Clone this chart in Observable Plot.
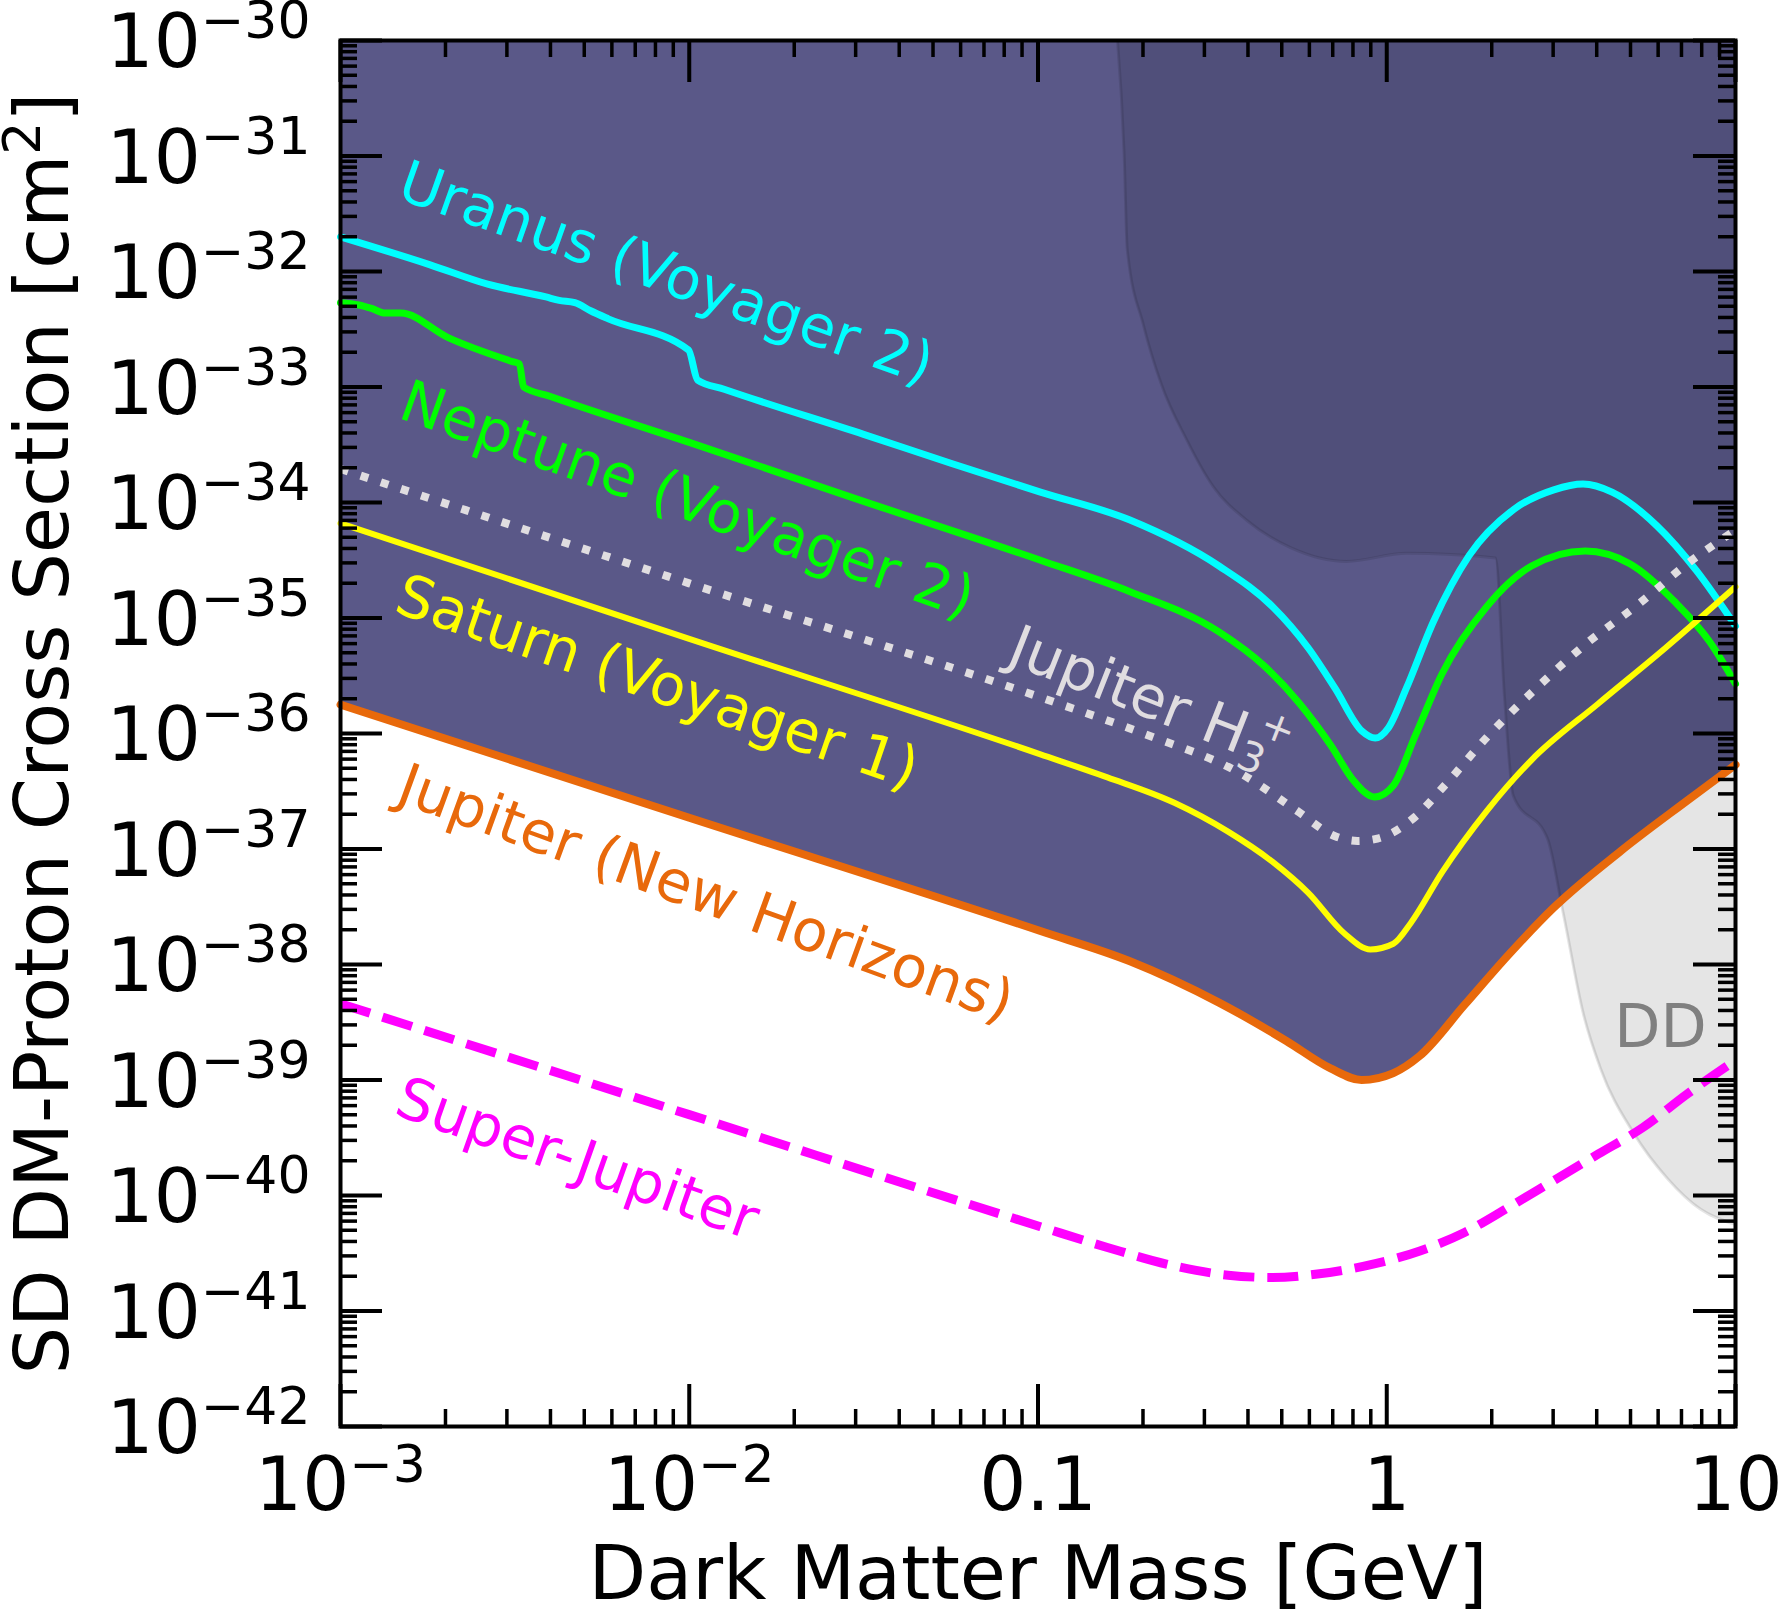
<!DOCTYPE html>
<html>
<head>
<meta charset="utf-8">
<script src="https://cdn.jsdelivr.net/npm/d3@7"></script>
<script src="https://cdn.jsdelivr.net/npm/@observablehq/plot@0.6"></script>
<style>
  html, body { margin: 0; padding: 0; background: #ffffff; }
  #chart svg { display: block; }
</style>
</head>
<body>
<div id="chart"></div>
<script>
// All series are given as log10(mass / GeV) and log10(sigma / cm^2).

// Uranus (Voyager 2)
const uranusLogM = [-3.000, -2.745, -2.578, -2.411, -2.373, -2.328, -2.283, -2.232, -2.002, -1.976, -1.900, -1.500, -1.250, -0.993, -0.738, -0.481, -0.328, -0.225, -0.148, -0.071, -0.033, 0.005, 0.056, 0.134, 0.236, 0.364, 0.479, 0.563, 0.646, 0.774, 0.888, 1.000];
const uranusLogS = [-31.70, -31.94, -32.11, -32.22, -32.25, -32.27, -32.34, -32.41, -32.68, -32.94, -33.02, -33.41, -33.66, -33.91, -34.15, -34.55, -34.90, -35.26, -35.61, -35.98, -36.04, -35.95, -35.61, -35.03, -34.46, -34.06, -33.89, -33.84, -33.91, -34.20, -34.59, -35.07];

// Neptune (Voyager 2)
const neptuneLogM = [-3.000, -2.948, -2.911, -2.872, -2.827, -2.693, -2.507, -2.487, -2.475, -2.400, -2.000, -1.500, -0.993, -0.738, -0.481, -0.353, -0.250, -0.161, -0.097, -0.035, 0.019, 0.083, 0.159, 0.287, 0.415, 0.569, 0.697, 0.826, 0.927, 1.000];
const neptuneLogS = [-32.27, -32.29, -32.32, -32.36, -32.36, -32.57, -32.78, -32.80, -33.00, -33.08, -33.48, -33.99, -34.50, -34.77, -35.12, -35.41, -35.74, -36.10, -36.40, -36.55, -36.45, -36.01, -35.48, -34.90, -34.55, -34.42, -34.53, -34.86, -35.21, -35.57];

// Jupiter H3+
const h3LogM = [-3.000, -2.000, -0.942, -0.698, -0.411, -0.257, -0.148, -0.084, -0.027, 0.082, 0.166, 0.294, 0.428, 0.569, 0.722, 0.862, 1.000];
const h3LogS = [-33.71, -34.70, -35.74, -36.00, -36.36, -36.67, -36.89, -36.93, -36.91, -36.72, -36.45, -36.01, -35.61, -35.23, -34.88, -34.53, -34.24];

// Saturn (Voyager 1)
const saturnLogM = [-3.000, -2.000, -0.993, -0.801, -0.609, -0.455, -0.328, -0.225, -0.122, -0.047, 0.019, 0.069, 0.159, 0.287, 0.415, 0.607, 0.799, 1.000];
const saturnLogS = [-34.18, -35.18, -36.18, -36.38, -36.60, -36.85, -37.11, -37.38, -37.73, -37.87, -37.82, -37.64, -37.20, -36.67, -36.23, -35.74, -35.26, -34.73];

// Jupiter (New Horizons): lower edge of the excluded region
const jupiterLogM = [-3.000, -2.000, -0.993, -0.738, -0.481, -0.289, -0.161, -0.072, 0.019, 0.095, 0.223, 0.351, 0.478, 0.670, 0.862, 1.000];
const jupiterLogS = [-35.75, -36.73, -37.71, -37.97, -38.33, -38.66, -38.90, -39.00, -38.94, -38.79, -38.35, -37.91, -37.51, -37.02, -36.58, -36.27];

// Super-Jupiter projection
const superLogM = [-3.000, -2.000, -0.993, -0.801, -0.609, -0.455, -0.328, -0.199, -0.033, 0.095, 0.223, 0.351, 0.479, 0.607, 0.735, 0.862, 1.000];
const superLogS = [-38.34, -39.30, -40.27, -40.45, -40.61, -40.69, -40.71, -40.68, -40.59, -40.48, -40.32, -40.10, -39.87, -39.64, -39.41, -39.12, -38.83];

// Direct detection (DD) bound: lower edge of its region
const ddLogM = [-0.772, -0.753, -0.744, -0.697, -0.647, -0.573, -0.498, -0.399, -0.276, -0.115, 0.057, 0.312, 0.338, 0.363, 0.461, 0.507, 0.564, 0.613, 0.708, 0.804, 0.900, 1.000];
const ddLogS = [-30.00, -30.98, -31.81, -32.47, -32.97, -33.46, -33.86, -34.16, -34.39, -34.51, -34.44, -34.48, -35.70, -36.54, -36.91, -37.57, -38.43, -38.90, -39.46, -39.85, -40.12, -40.25];

// Curve labels: text, log10 position of the start of the text, angle
const labelText  = ["Uranus (Voyager 2)", "Neptune (Voyager 2)", "Jupiter H3+", "Saturn (Voyager 1)", "Jupiter (New Horizons)", "Super-Jupiter"];
const labelLogM  = [-2.825, -2.822, -1.075, -2.834, -2.828, -2.834];
const labelLogS  = [-31.21, -33.11, -35.23, -34.79, -36.43, -39.14];
const labelAngle = [19.5, 19.5, 21.5, 19.0, 20.0, 19.5];
const labelColor = ["#00ffff", "#00ff00", "#e0dde0", "#ffff00", "#e8690b", "#ff00ff"];

// Axis ticks
const xMajor = [1e-3, 1e-2, 1e-1, 1, 10];
const xTickLabels = ["10^-3", "10^-2", "0.1", "1", "10"];
const yMajor = d3.range(-42, -29).map((e) => Number(`1e${e}`));
const yTickLabels = d3.range(-42, -29).map((e) => `10^${e}`);

const xMinor = d3.range(-3, 1).flatMap((e) => d3.range(2, 10).map((k) => k * Math.pow(10, e)));
const yMinor = d3.range(-42, -30).flatMap((e) => d3.range(2, 10).map((k) => Number(`${k}e${e}`)));

const toRows = (lm, ls) => lm.map((m, i) => ({mass: Math.pow(10, m), sigma: Math.pow(10, ls[i])}));
const uranus = toRows(uranusLogM, uranusLogS);
const neptune = toRows(neptuneLogM, neptuneLogS);
const h3 = toRows(h3LogM, h3LogS);
const saturn = toRows(saturnLogM, saturnLogS);
const jupiter = toRows(jupiterLogM, jupiterLogS);
const superJ = toRows(superLogM, superLogS);
const dd = toRows(ddLogM, ddLogS);
const labels = labelText.map((t, i) => ({
  text: t, mass: Math.pow(10, labelLogM[i]), sigma: Math.pow(10, labelLogS[i]),
  angle: labelAngle[i], color: labelColor[i]
}));

const W = 1778, H = 1610, ML = 340, MR = 43, MT = 40, MB = 184;
const FW = W - ML - MR, FH = H - MT - MB;
const TOP = 1e-30;
const MAJ = 42, MIN = 17;

const curve = "monotone-x";
const plot = Plot.plot({
  width: W, height: H,
  marginLeft: ML, marginRight: MR, marginTop: MT, marginBottom: MB,
  style: {fontFamily: "'DejaVu Sans', sans-serif", background: "#ffffff", color: "#000000"},
  x: {type: "log", domain: [1e-3, 10]},
  y: {type: "log", domain: [1e-42, 1e-30]},
  marks: [
    // excluded region above the Jupiter (New Horizons) bound
    Plot.areaY(jupiter, {x: "mass", y1: "sigma", y2: () => TOP, fill: "#5a5888", curve}),
    // direct detection region
    Plot.areaY(dd, {x: "mass", y1: "sigma", y2: () => TOP, fill: "#000000", fillOpacity: 0.1, curve}),
    Plot.line(dd, {x: "mass", y: "sigma", stroke: "#000000", strokeOpacity: 0.1, strokeWidth: 3, curve}),

    Plot.line(uranus, {x: "mass", y: "sigma", stroke: "#00ffff", strokeWidth: 7, curve}),
    Plot.line(neptune, {x: "mass", y: "sigma", stroke: "#00ff00", strokeWidth: 7, curve}),
    Plot.line(h3, {x: "mass", y: "sigma", stroke: "#e0dde0", strokeWidth: 8, strokeDasharray: "8,13.2", strokeLinecap: "butt", curve}),
    Plot.line(saturn, {x: "mass", y: "sigma", stroke: "#ffff00", strokeWidth: 6, curve}),
    Plot.line(jupiter, {x: "mass", y: "sigma", stroke: "#e8690b", strokeWidth: 8, curve}),
    Plot.line(superJ, {x: "mass", y: "sigma", stroke: "#ff00ff", strokeWidth: 9, strokeDasharray: "31,13", strokeLinecap: "butt", curve}),

    Plot.text(labels, {x: "mass", y: "sigma", text: "text", rotate: "angle", fill: "color",
      textAnchor: "start", lineAnchor: "middle", fontSize: 58}),
    Plot.text(["DD"], {x: () => Math.pow(10, 0.785), y: () => Math.pow(10, -38.544), text: (d) => d,
      fill: "#808080", fontSize: 60, textAnchor: "middle", lineAnchor: "middle"}),

    // inward ticks on all four sides
    Plot.ruleX(xMajor, {stroke: "#000", strokeWidth: 4, insetTop: FH - MAJ}),
    Plot.ruleX(xMajor, {stroke: "#000", strokeWidth: 4, insetBottom: FH - MAJ}),
    Plot.ruleX(xMinor, {stroke: "#000", strokeWidth: 3.5, insetTop: FH - MIN}),
    Plot.ruleX(xMinor, {stroke: "#000", strokeWidth: 3.5, insetBottom: FH - MIN}),
    Plot.ruleY(yMajor, {stroke: "#000", strokeWidth: 4, insetRight: FW - MAJ}),
    Plot.ruleY(yMajor, {stroke: "#000", strokeWidth: 4, insetLeft: FW - MAJ}),
    Plot.ruleY(yMinor, {stroke: "#000", strokeWidth: 3.5, insetRight: FW - MIN}),
    Plot.ruleY(yMinor, {stroke: "#000", strokeWidth: 3.5, insetLeft: FW - MIN}),
    Plot.frame({stroke: "#000", strokeWidth: 4}),

    Plot.axisX({ticks: xMajor, tickSize: 0, tickPadding: 31, fontSize: 74, label: null,
      tickFormat: (d) => xTickLabels[xMajor.indexOf(d)]}),
    Plot.axisY({ticks: yMajor, tickSize: 0, tickPadding: 30, fontSize: 74, label: null, dy: 3,
      tickFormat: (d) => yTickLabels[yMajor.indexOf(d)]}),

    Plot.text(["Dark Matter Mass [GeV]"], {frameAnchor: "bottom", dy: 148, text: (d) => d, fontSize: 75,
      fill: "#000", textAnchor: "middle", lineAnchor: "middle"}),
    Plot.text(["SD DM-Proton Cross Section [cm^2]"], {frameAnchor: "left", dx: -297, rotate: -90, text: (d) => d,
      fontSize: 75, fill: "#000", textAnchor: "middle", lineAnchor: "middle"})
  ]
});

document.getElementById("chart").appendChild(plot);

// Typeset powers of ten and the H3+ formula with raised / lowered tspans
const svg = d3.select(plot);
function typesetPower(el, supSize, rise) {
  const s = el.textContent;
  if (!s.includes("^")) return;
  const [base, exp] = s.split("^");
  const t = d3.select(el);
  t.text(null);
  t.append("tspan").text(base);
  t.append("tspan").attr("font-size", supSize).attr("dy", -rise).text(exp.replace("-", "\u2212"));
}
svg.selectAll('g[aria-label="x-axis tick label"] text').each(function () { typesetPower(this, 52, 28); });
svg.selectAll('g[aria-label="y-axis tick label"] text').each(function () { typesetPower(this, 52, 29); });

svg.selectAll("text").each(function () {
  const s = this.textContent;
  const t = d3.select(this);
  if (s === "SD DM-Proton Cross Section [cm^2]") {
    t.text(null);
    t.append("tspan").text("SD DM-Proton Cross Section [cm");
    t.append("tspan").attr("font-size", 52).attr("dy", -28).text("2");
    t.append("tspan").attr("dy", 28).text("]");
  } else if (s === "Jupiter H3+") {
    t.text(null);
    t.append("tspan").text("Jupiter H");
    t.append("tspan").attr("font-size", 41).attr("dy", 13).text("3");
    t.append("tspan").attr("font-size", 41).attr("dx", -16).attr("dy", -38).text("+");
  }
});
</script>
</body>
</html>
